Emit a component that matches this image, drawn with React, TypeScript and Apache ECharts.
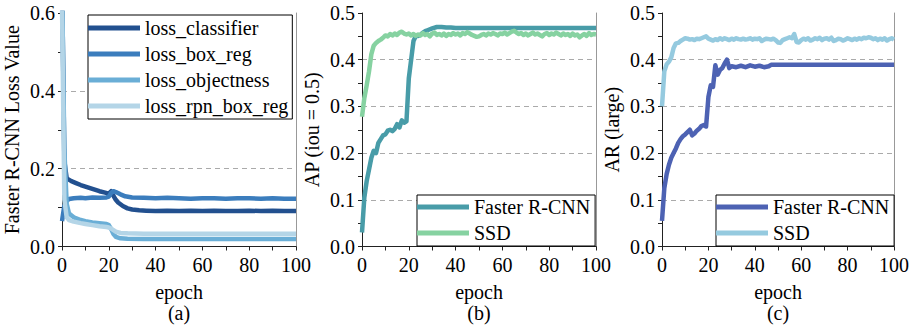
import React, { useEffect, useRef } from 'react';
import * as echarts from 'echarts';

// ---------- Panel (a): Faster R-CNN losses, [epoch, value] ----------
const LOSS_CLASSIFIER: number[][] = [
  [0, 0.7], [1, 0.22], [2, 0.175], [4, 0.168], [6, 0.163], [8, 0.158], [10, 0.154], [12, 0.15],
  [14, 0.146], [16, 0.142], [18, 0.139], [20, 0.136], [21, 0.142], [22, 0.13], [23, 0.12], [24, 0.113],
  [26, 0.104], [28, 0.098], [30, 0.095], [33, 0.093], [36, 0.092], [40, 0.091], [45, 0.092], [50, 0.091],
  [55, 0.092], [60, 0.091], [65, 0.092], [70, 0.091], [75, 0.091], [80, 0.092], [85, 0.091], [90, 0.092],
  [95, 0.091], [100, 0.091],
];
const LOSS_BOX_REG: number[][] = [
  [0, 0.065], [1, 0.105], [2, 0.117], [3, 0.122], [5, 0.124], [8, 0.125], [10, 0.124], [13, 0.126],
  [16, 0.125], [19, 0.126], [20, 0.128], [21, 0.138], [22, 0.142], [23, 0.14], [25, 0.134], [27, 0.129],
  [30, 0.126], [35, 0.125], [40, 0.124], [45, 0.125], [50, 0.124], [55, 0.123], [60, 0.124], [65, 0.124],
  [70, 0.123], [75, 0.124], [80, 0.124], [85, 0.123], [90, 0.124], [95, 0.123], [100, 0.123],
];
const LOSS_OBJECTNESS: number[][] = [
  [0, 0.69], [1, 0.25], [2, 0.11], [3, 0.085], [5, 0.075], [8, 0.068], [10, 0.065], [13, 0.062],
  [16, 0.06], [19, 0.058], [20, 0.055], [21, 0.045], [22, 0.032], [23, 0.025], [25, 0.021], [28, 0.02],
  [35, 0.019], [50, 0.019], [70, 0.019], [85, 0.019], [100, 0.019],
];
const LOSS_RPN_BOX_REG: number[][] = [
  [0, 0.62], [1, 0.12], [2, 0.075], [3, 0.068], [5, 0.064], [8, 0.06], [10, 0.058], [13, 0.055],
  [16, 0.052], [19, 0.05], [20, 0.049], [21, 0.046], [22, 0.042], [23, 0.038], [25, 0.035], [28, 0.034],
  [35, 0.033], [50, 0.033], [70, 0.033], [85, 0.033], [100, 0.033],
];

// ---------- Panel (b): AP (iou = 0.5) ----------
const AP_FRCNN: number[][] = [
  [0, 0.03], [1, 0.105], [2, 0.14], [3, 0.165], [4, 0.19], [5, 0.205], [6, 0.2], [7, 0.222], [8, 0.23],
  [9, 0.238], [10, 0.24], [11, 0.248], [12, 0.25], [13, 0.247], [14, 0.252], [15, 0.262], [16, 0.255],
  [17, 0.27], [18, 0.265], [19, 0.268], [20, 0.36], [21, 0.4], [22, 0.44], [23, 0.451], [24, 0.451],
  [25, 0.453], [26, 0.458], [27, 0.461], [28, 0.463], [30, 0.467], [32, 0.47], [34, 0.47], [36, 0.469],
  [38, 0.469], [40, 0.468], [60, 0.468], [80, 0.468], [100, 0.468],
];
// SSD, one value per epoch 0..100
const AP_SSD: number[] = [
  0.278, 0.318, 0.345, 0.375, 0.412, 0.43, 0.436, 0.44, 0.443, 0.447,
  0.452, 0.45, 0.455, 0.452, 0.456, 0.453, 0.458, 0.46, 0.456, 0.454,
  0.456, 0.452, 0.455, 0.451, 0.454, 0.452, 0.457, 0.453, 0.455, 0.45,
  0.456, 0.458, 0.453, 0.455, 0.452, 0.456, 0.451, 0.455, 0.453, 0.457,
  0.454, 0.456, 0.452, 0.457, 0.455, 0.459, 0.456, 0.453, 0.451, 0.449,
  0.45, 0.453, 0.455, 0.452, 0.456, 0.454, 0.457, 0.455, 0.452, 0.456,
  0.455, 0.458, 0.454, 0.457, 0.46, 0.462, 0.458, 0.455, 0.457, 0.453,
  0.456, 0.452, 0.455, 0.458, 0.454, 0.456, 0.453, 0.45, 0.455, 0.457,
  0.453, 0.456, 0.454, 0.458, 0.455, 0.452, 0.456, 0.453, 0.455, 0.451,
  0.456, 0.452, 0.454, 0.448, 0.452, 0.455, 0.451, 0.457, 0.453, 0.455,
  0.454,
];

// ---------- Panel (c): AR (large) ----------
const AR_FRCNN: number[][] = [
  [0, 0.055], [1, 0.125], [2, 0.155], [3, 0.175], [4, 0.19], [5, 0.2], [6, 0.21], [7, 0.222], [8, 0.23],
  [9, 0.236], [10, 0.24], [11, 0.245], [12, 0.25], [13, 0.238], [14, 0.242], [15, 0.248], [16, 0.252],
  [17, 0.258], [18, 0.26], [19, 0.257], [20, 0.32], [21, 0.345], [22, 0.342], [23, 0.388], [24, 0.368],
  [25, 0.378], [26, 0.382], [27, 0.392], [28, 0.4], [29, 0.382], [30, 0.386], [32, 0.384], [34, 0.387],
  [36, 0.384], [38, 0.388], [40, 0.385], [42, 0.387], [44, 0.384], [46, 0.386], [47, 0.389], [60, 0.389],
  [80, 0.389], [100, 0.389],
];
const AR_SSD: number[] = [
  0.3, 0.375, 0.39, 0.396, 0.405, 0.425, 0.435, 0.436, 0.44, 0.443,
  0.446, 0.445, 0.443, 0.444, 0.442, 0.445, 0.444, 0.446, 0.448, 0.45,
  0.445, 0.443, 0.441, 0.444, 0.442, 0.446, 0.443, 0.446, 0.444, 0.442,
  0.445, 0.443, 0.446, 0.444, 0.443, 0.445, 0.443, 0.444, 0.446, 0.443,
  0.445, 0.444, 0.446, 0.44, 0.443, 0.445, 0.444, 0.443, 0.445, 0.442,
  0.437, 0.436, 0.442, 0.444, 0.446, 0.448, 0.446, 0.455, 0.438, 0.437,
  0.442, 0.445, 0.443, 0.446, 0.441, 0.443, 0.446, 0.444, 0.447, 0.442,
  0.445, 0.446, 0.443, 0.447, 0.44, 0.442, 0.445, 0.444, 0.441, 0.443,
  0.446, 0.444, 0.442, 0.445, 0.443, 0.446, 0.444, 0.447, 0.446, 0.448,
  0.447, 0.444, 0.446, 0.442, 0.445, 0.443, 0.446, 0.441, 0.444, 0.446,
  0.443,
];

const LOSS_NAMES = ['loss_classifier', 'loss_box_reg', 'loss_objectness', 'loss_rpn_box_reg'];
const MODEL_NAMES = ['Faster R-CNN', 'SSD'];
const Y_NAMES = ['Faster R-CNN Loss Value', 'AP (iou = 0.5)', 'AR (large)'];
const PANEL_LABELS = ['(a)', '(b)', '(c)'];
const X_NAME = 'epoch';

const LOSS_COLORS = ['#22508f', '#3b7dbd', '#6aaed6', '#b4d5e7'];
const B_COLORS = ['#489ca8', '#86d2a1'];
const C_COLORS = ['#4d62b3', '#95cadf'];

const GRIDS = [
  { left: 62, top: 13, width: 234, height: 233.5 },
  { left: 362, top: 13, width: 234, height: 233.5 },
  { left: 662, top: 13, width: 232, height: 233.5 },
];

const perEpoch = (vals: number[]) => vals.map((v, i) => [i, v]);
const serifText = () => ({ fontFamily: 'Liberation Serif', fontSize: 20, color: '#000' });

export default function App() {
  const ref = useRef<HTMLDivElement>(null);
  useEffect(() => {
    document.body.style.margin = '0';
    if (!ref.current) return;
    const chart = echarts.init(ref.current, undefined, { renderer: 'svg' });
    const axisColor = '#222';

    const xAxis = GRIDS.map((_, i) => ({
      type: 'value',
      gridIndex: i,
      min: 0,
      max: 100,
      interval: 20,
      name: X_NAME,
      nameLocation: 'middle',
      nameGap: 35,
      nameTextStyle: serifText(),
      axisLine: { show: true, lineStyle: { color: axisColor, width: 1 } },
      axisTick: { show: true, inside: false, length: 4, lineStyle: { color: axisColor } },
      minorTick: { show: true, splitNumber: 2, length: 4, lineStyle: { color: axisColor } },
      axisLabel: { ...serifText(), margin: 8 },
      splitLine: { show: false },
    }));

    const yLeft = GRIDS.map((_, i) => ({
      type: 'value',
      gridIndex: i,
      position: 'left',
      min: 0,
      max: i === 0 ? 0.6 : 0.5,
      interval: i === 0 ? 0.2 : 0.1,
      name: Y_NAMES[i],
      nameLocation: 'middle',
      nameGap: 40,
      nameTextStyle: serifText(),
      axisLine: { show: true, onZero: false, lineStyle: { color: axisColor, width: 1 } },
      axisTick: { show: true, inside: false, length: 4, lineStyle: { color: axisColor } },
      minorTick: { show: true, splitNumber: 2, length: 4, lineStyle: { color: axisColor } },
      axisLabel: { ...serifText(), margin: 7, formatter: (v: number) => v.toFixed(1) },
      splitLine: {
        show: true,
        showMinLine: false,
        showMaxLine: false,
        lineStyle: { color: '#aaa', width: 1, type: [5, 4] },
      },
    }));

    const yRight = GRIDS.map((_, i) => ({
      type: 'value',
      gridIndex: i,
      position: 'right',
      min: 0,
      max: i === 0 ? 0.6 : 0.5,
      interval: i === 0 ? 0.2 : 0.1,
      axisLine: { show: true, onZero: false, lineStyle: { color: '#999', width: 1 } },
      axisTick: { show: false },
      axisLabel: { show: false },
      splitLine: { show: false },
    }));

    const line = (name: string, data: number[][], color: string, idx: number) => ({
      type: 'line',
      name,
      data,
      xAxisIndex: idx,
      yAxisIndex: idx,
      symbol: 'none',
      color,
      lineStyle: { width: 4.5, color, join: 'round' },
      clip: true,
      z: 2,
    });

    const lossData = [LOSS_CLASSIFIER, LOSS_BOX_REG, LOSS_OBJECTNESS, LOSS_RPN_BOX_REG];
    const series: any[] = [
      ...LOSS_NAMES.map((n, k) => line(n, lossData[k], LOSS_COLORS[k], 0)),
      line(MODEL_NAMES[0] + '|b', AP_FRCNN, B_COLORS[0], 1),
      line(MODEL_NAMES[1] + '|b', perEpoch(AP_SSD), B_COLORS[1], 1),
      line(MODEL_NAMES[0] + '|c', AR_FRCNN, C_COLORS[0], 2),
      line(MODEL_NAMES[1] + '|c', perEpoch(AR_SSD), C_COLORS[1], 2),
    ];

    const legendBase = () => ({
      orient: 'vertical',
      itemWidth: 52,
      itemHeight: 5,
      itemGap: 6,
      icon: 'rect',
      borderColor: '#000',
      borderWidth: 1,
      borderRadius: 0,
      backgroundColor: '#fff',
      selectedMode: false,
      textStyle: { ...serifText(), lineHeight: 20 },
      formatter: (n: string) => n.split('|')[0],
    });

    chart.setOption({
      animation: false,
      grid: GRIDS,
      xAxis,
      yAxis: [...yLeft, ...yRight],
      series,
      legend: [
        { ...legendBase(), left: 88, top: 15, padding: [3, 4, 3, 0], data: LOSS_NAMES },
        { ...legendBase(), left: 417, top: 195, padding: [2, 5, 3, 0], data: MODEL_NAMES.map((m) => m + '|b') },
        { ...legendBase(), left: 716, top: 195, padding: [2, 5, 3, 0], data: MODEL_NAMES.map((m) => m + '|c') },
      ],
      graphic: GRIDS.map((g, i) => ({
        type: 'text',
        x: g.left + g.width / 2,
        y: 313,
        style: {
          text: PANEL_LABELS[i],
          fontFamily: 'Liberation Serif',
          fontSize: 20,
          fill: '#000',
          align: 'center',
          verticalAlign: 'middle',
        },
      })),
    });
    return () => chart.dispose();
  }, []);
  return <div ref={ref} style={{ width: 915, height: 328 }} />;
}
